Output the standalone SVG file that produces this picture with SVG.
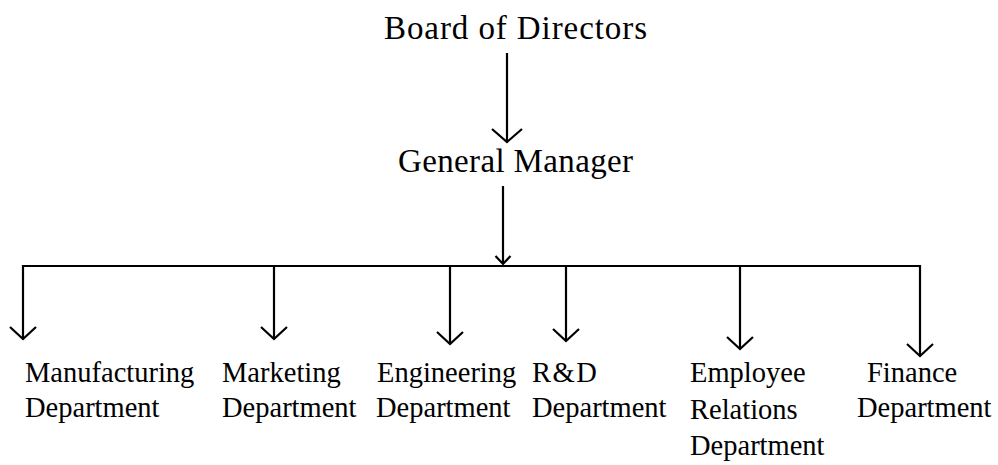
<svg xmlns="http://www.w3.org/2000/svg" width="998" height="465" viewBox="0 0 998 465">
<style>
text{font-family:"Liberation Serif","Times New Roman",serif;fill:#000}
.big{font-size:33px}
.lbl{font-size:28.5px}
.ln{stroke:#000;stroke-width:2.2;fill:none}
</style>
<defs>
<marker id="ahL" markerUnits="userSpaceOnUse" orient="auto" refX="0" refY="0" markerWidth="40" markerHeight="40" overflow="visible"><path d="M-13,-15 L0,0 L-13,15" fill="none" stroke="#000" stroke-width="2.2"/></marker>
<marker id="ahS" markerUnits="userSpaceOnUse" orient="auto" refX="0" refY="0" markerWidth="20" markerHeight="20" overflow="visible"><path d="M-8,-7.5 L0,0 L-8,7.5" fill="none" stroke="#000" stroke-width="2.2"/></marker>
<marker id="ahM" markerUnits="userSpaceOnUse" orient="auto" refX="0" refY="0" markerWidth="40" markerHeight="40" overflow="visible"><path d="M-12,-13 L0,0 L-12,13" fill="none" stroke="#000" stroke-width="2.2"/></marker>
</defs>
<rect width="998" height="465" fill="#fff"/>
<g id="connectors">
<line class="ln" x1="507" y1="53" x2="507" y2="142" marker-end="url(#ahL)"/>
<line class="ln" x1="503" y1="186" x2="503" y2="264" marker-end="url(#ahS)"/>
<line class="ln" x1="22" y1="266" x2="921" y2="266"/>
<line class="ln" x1="23" y1="265" x2="23" y2="339" marker-end="url(#ahM)"/>
<line class="ln" x1="274" y1="266" x2="274" y2="339" marker-end="url(#ahM)"/>
<line class="ln" x1="450" y1="266" x2="450" y2="344" marker-end="url(#ahM)"/>
<line class="ln" x1="566" y1="266" x2="566" y2="341" marker-end="url(#ahM)"/>
<line class="ln" x1="740" y1="266" x2="740" y2="349" marker-end="url(#ahM)"/>
<line class="ln" x1="920" y1="265" x2="920" y2="356" marker-end="url(#ahM)"/>
</g>
<g id="board"><text class="big" x="384" y="39" textLength="263" lengthAdjust="spacing">Board of Directors</text></g>
<g id="gm"><text class="big" x="398" y="172" textLength="235" lengthAdjust="spacing">General Manager</text></g>
<g id="manufacturing"><text class="lbl" x="25" y="382">Manufacturing</text><text class="lbl" x="25" y="417">Department</text></g>
<g id="marketing"><text class="lbl" x="222" y="382">Marketing</text><text class="lbl" x="222" y="417">Department</text></g>
<g id="engineering"><text class="lbl" x="377" y="382">Engineering</text><text class="lbl" x="376" y="417">Department</text></g>
<g id="rd"><text class="lbl" x="532" y="382" letter-spacing="1.5">R&amp;D</text><text class="lbl" x="532" y="417">Department</text></g>
<g id="employee"><text class="lbl" x="690" y="382">Employee</text><text class="lbl" x="690" y="419">Relations</text><text class="lbl" x="690" y="455">Department</text></g>
<g id="finance"><text class="lbl" x="867" y="382">Finance</text><text class="lbl" x="857" y="417">Department</text></g>
</svg>
